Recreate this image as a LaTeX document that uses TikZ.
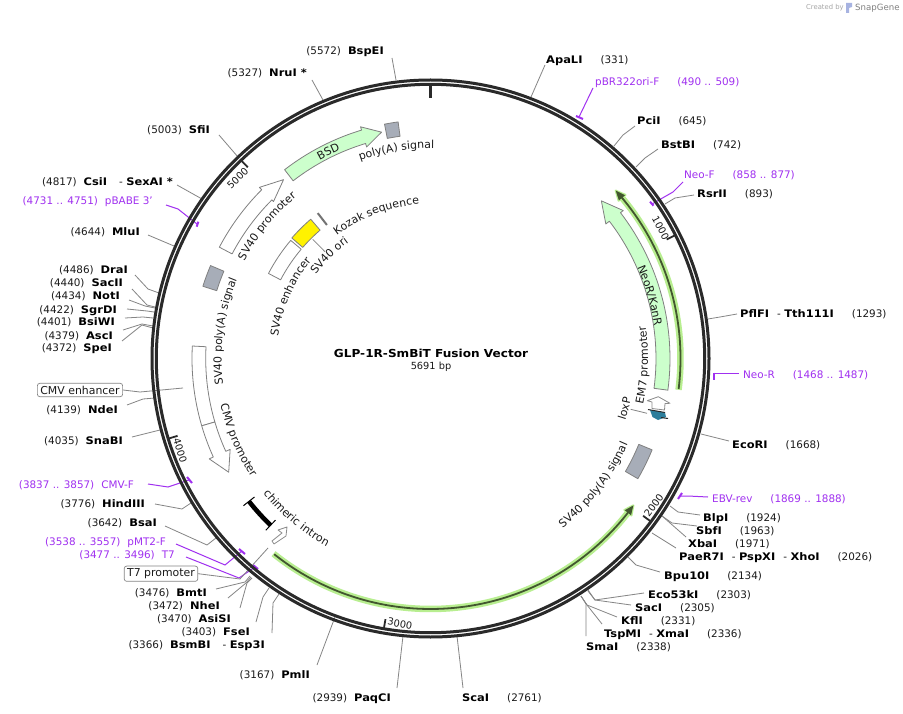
\documentclass[tikz,border=0pt]{standalone}
\usepackage{fontspec}
\setmainfont[BoldFeatures={FakeStretch=1.1}]{DejaVu Sans}
\usetikzlibrary{decorations.text,calc}
\definecolor{prim}{HTML}{A030F0}
\definecolor{txt}{HTML}{1A1A1A}
\definecolor{ringc}{HTML}{2A2A2A}
\definecolor{linec}{HTML}{858585}
\definecolor{featgreen}{HTML}{CCFFCC}
\definecolor{featedge}{HTML}{808080}
\definecolor{featgray}{HTML}{A7ADB8}
\definecolor{glow}{HTML}{B8EE90}
\definecolor{orfdark}{HTML}{42562F}
\definecolor{teal}{HTML}{2C7E9C}
\newcommand{\arcfnt}{\fontsize{11}{13}\selectfont\color{txt}}
\newcommand{\arcpth}[3]{({(#1)-90}:#3) arc[start angle={(#1)-90},end angle={(#2)-90},radius=#3]}
\newcommand{\blockpth}[4]{({(#1)-90}:#4) arc[start angle={(#1)-90},end angle={(#2)-90},radius=#4] -- ({(#2)-90}:#3) arc[start angle={(#2)-90},end angle={(#1)-90},radius=#3] -- cycle}
\newcommand{\arrowpth}[7]{({(#1)-90}:#5) arc[start angle={(#1)-90},end angle={(#2)-90},radius=#5] -- ({(#2)-90}:#7) -- ({(#3)-90}:{(#4+#5)/2}) -- ({(#2)-90}:#6) -- ({(#2)-90}:#4) arc[start angle={(#2)-90},end angle={(#1)-90},radius=#4] -- cycle}
\newcommand{\arclabel}[3]{\path[decorate,decoration={text along path,text align=center,text={|\arcfnt|#3}}] \arcpth{#1-40}{#1+40}{#2};}
\newcommand{\arclabelrev}[3]{\path[decorate,decoration={text along path,text align=center,text={|\arcfnt|#3}}] \arcpth{#1+40}{#1-40}{#2};}
% style, anchor, name, x, y, text, start offset, elbows, end
\newcommand{\site}[9]{\node[#1,anchor=#2] (#3) at (#4,#5) {#6};\coordinate (#3r) at (#9);\draw[#1line] (#3.#2) ++(#7) -- #8 (#3r);}
\newcommand{\hgap}{\hspace{7pt}}
\newcommand{\rgap}{\hspace{18pt}}
\newcommand{\dgap}{\hspace{8pt}-\hspace{3.5pt}}
\newcommand{\ldgap}{\hspace{12pt}-\hspace{3.5pt}}
\newcommand{\bn}[1]{\textcolor{black}{\textbf{#1}}}
\tikzset{
 sitelbl/.style={font=\fontsize{10.4}{12}\selectfont,text=txt,inner sep=0pt,text height=8pt,text depth=0pt},
 primlbl/.style={font=\fontsize{10.4}{12}\selectfont,text=prim,inner sep=0pt,text height=8pt,text depth=0pt},
 sitelblline/.style={draw=linec,line width=0.8pt},
 primlblline/.style={draw=prim,line width=1pt},
 primtick/.style={draw=prim,line width=2pt},
 boxlbl/.style={font=\fontsize{10.9}{12}\selectfont,text=txt,draw=linec,fill=white,rounded corners=2.5pt,inner xsep=3pt,inner ysep=2.5pt,line width=0.7pt},
 feat/.style={draw=featedge,line width=0.8pt,line join=round},
 ringline/.style={draw=ringc,line width=3pt},
 tickmark/.style={draw=ringc,line width=1.8pt},
 topmark/.style={draw=ringc,line width=3pt},
 ticklbl/.style={font=\fontsize{9.8}{11}\selectfont,text=txt,inner sep=0pt},
}
\begin{document}
\begin{tikzpicture}[x=1pt,y=-1pt]
\useasboundingbox (0,0) rectangle (903,714);
\fill[white] (0,0) rectangle (903,714);

% watermark
\node[font=\fontsize{6.8}{8}\selectfont,text=black!35,inner sep=0pt,anchor=west] (wm1) at (806,8) {Created by};
\fill[cyan!35!blue!35] (846,3) -- (852,3) -- (852,7) -- (849,8) -- (849,13) -- (846,13) -- cycle;
\node[font=\fontsize{8.6}{10}\selectfont,text=black!50,inner sep=0pt,anchor=west] (wm2) at (855,8) {SnapGene};

% title
\node[font=\bfseries\fontsize{11}{13}\selectfont,text=black,inner sep=0pt] (title) at (431,353) {GLP-1R-SmBiT Fusion Vector};
\node[font=\fontsize{9.8}{12}\selectfont,text=txt,inner sep=0pt] (size) at (431,367) {5691 bp};

% site and primer labels with connectors (below the ring)
\site{sitelbl}{east}{BspEI}{384}{51}{(5572)\hgap\bn{BspEI}}{8,7}{}{396,80}
\site{sitelbl}{east}{NruI}{307}{73}{(5327)\hgap\bn{NruI *}}{5,7}{}{323,100}
\site{sitelbl}{east}{SfiI}{210}{130}{(5003)\hgap\bn{SfiI}}{9,5}{}{238,157}
\site{sitelbl}{east}{CsiI}{173}{182}{(4817)\hgap\bn{CsiI}\ldgap\bn{SexAI *}}{4,3}{}{202,199}
\site{sitelbl}{east}{MluI}{140}{232}{(4644)\hgap\bn{MluI}}{8,3}{}{174,246}
\site{sitelbl}{east}{DraI}{128}{270}{(4486)\hgap\bn{DraI}}{7,5}{(148,289) --}{159,293}
\site{sitelbl}{east}{SacII}{123}{283}{(4440)\hgap\bn{SacII}}{9,6}{(147,305) --}{155,307}
\site{sitelbl}{east}{NotI}{120}{296}{(4434)\hgap\bn{NotI}}{9,4}{(145,306) --}{155,308}
\site{sitelbl}{east}{SgrDI}{117}{309}{(4422)\hgap\bn{SgrDI}}{10,0}{(147,311) --}{154,312}
\site{sitelbl}{east}{BsiWI}{115}{322}{(4401)\hgap\bn{BsiWI}}{10,-4}{(143,317) --}{153,318}
\site{sitelbl}{east}{AscI}{113}{335}{(4379)\hgap\bn{AscI}}{10,-5}{(142,324) --}{153,326}
\site{sitelbl}{east}{SpeI}{112}{348}{(4372)\hgap\bn{SpeI}}{10,-7}{(142,325) --}{153,328}
\site{sitelbl}{east}{NdeI}{118}{409}{(4139)\hgap\bn{NdeI}}{9,-4}{(143,399) --}{155,398}
\site{sitelbl}{east}{SnaBI}{123}{440}{(4035)\hgap\bn{SnaBI}}{9,-3}{}{160,430}
\site{sitelbl}{east}{HindIII}{145}{503}{(3776)\hgap\bn{HindIII}}{10,1}{(182,509) --}{191,503}
\site{sitelbl}{east}{BsaI}{157}{522}{(3642)\hgap\bn{BsaI}}{8,4}{(207,545) --}{216,538}
\site{sitelbl}{east}{BmtI}{207}{592}{(3476)\hgap\bn{BmtI}}{9,-3}{(245,582) --}{250,576}
\site{sitelbl}{east}{NheI}{220}{605}{(3472)\hgap\bn{NheI}}{8,-7}{(246,583) --}{251,577}
\site{sitelbl}{east}{AsiSI}{231}{618}{(3470)\hgap\bn{AsiSI}}{9,-10}{(247,583) --}{252,578}
\site{sitelbl}{east}{FseI}{250}{631}{(3403)\hgap\bn{FseI}}{6,-9}{(263,597) --}{269,588}
\site{sitelbl}{east}{BsmBI}{265}{644}{(3366)\hgap\bn{BsmBI}\ldgap\bn{Esp3I}}{7,-11}{(273,603) --}{279,594}
\site{sitelbl}{east}{PmlI}{310}{674}{(3167)\hgap\bn{PmlI}}{7,-9}{}{335,617}
\site{sitelbl}{east}{PaqCI}{391}{697}{(2939)\hgap\bn{PaqCI}}{6,-9}{}{403,636}

\site{sitelbl}{west}{ScaI}{462}{697}{\bn{ScaI}\rgap(2761)}{1,-9}{}{457,636}
\site{sitelbl}{west}{ApaLI}{546}{60}{\bn{ApaLI}\rgap(331)}{-1,5}{}{531,97}
\site{sitelbl}{west}{PciI}{637}{121}{\bn{PciI}\rgap(645)}{-2,5}{(623,135) --}{614,146}
\site{sitelbl}{west}{BstBI}{661}{145}{\bn{BstBI}\rgap(742)}{-3,4}{(645,158) --}{636,167}
\site{sitelbl}{west}{RsrII}{697}{194}{\bn{RsrII}\rgap(893)}{-3,1}{(675,198) --}{665,204}
\site{sitelbl}{west}{PflFI}{740}{314}{\bn{PflFI}\dgap\bn{Tth111I}\rgap(1293)}{-3,0}{(720,317) --}{708,319}
\site{sitelbl}{west}{EcoRI}{732}{444}{\bn{EcoRI}\rgap(1668)}{-3,-3}{}{701,434}
\site{sitelbl}{west}{BlpI}{703}{517}{\bn{BlpI}\rgap(1924)}{-3,-2}{(678,512) --}{670,506}
\site{sitelbl}{west}{SbfI}{696}{530}{\bn{SbfI}\rgap(1963)}{1,-4}{(672,523) --}{662,516}
\site{sitelbl}{west}{XbaI}{688}{543}{\bn{XbaI}\rgap(1971)}{-2,-6}{}{662,516}
\site{sitelbl}{west}{PaeR}{679}{556}{\bn{PaeR7I}\dgap\bn{PspXI}\dgap\bn{XhoI}\rgap(2026)}{-3,-8}{}{652,533}
\site{sitelbl}{west}{Bpu}{664}{575}{\bn{Bpu10I}\rgap(2134)}{-4,-3}{(636,565) --}{628,557}
\site{sitelbl}{west}{Eco}{648}{594}{\bn{Eco53kI}\rgap(2303)}{-4,-1}{(595,600) --}{588,590}
\site{sitelbl}{west}{SacI}{635}{607}{\bn{SacI}\rgap(2305)}{-4,-2}{(595,600) --}{588,591}
\site{sitelbl}{west}{KflI}{621}{620}{\bn{KflI}\rgap(2331)}{-4,-3}{(587,605) --}{581,596}
\site{sitelbl}{west}{TspMI}{604}{633}{\bn{TspMI}\dgap\bn{XmaI}\rgap(2336)}{-2,-9}{(587,605) --}{581,596}
\site{sitelbl}{west}{SmaI}{586}{646}{\bn{SmaI}\rgap(2338)}{0,-10}{(586,604) --}{581,596}

\site{primlbl}{east}{pBABE}{153}{201}{(4731 .. 4751)\hgap pBABE 3'}{13,4}{(178,209) --}{197,224}
\site{primlbl}{east}{CMVF}{134}{484}{(3837 .. 3857)\hgap CMV-F}{14,0}{(168,487) --}{189,480}
\site{primlbl}{east}{pMT}{166}{541}{(3538 .. 3557)\hgap pMT2-F}{10,3}{(225,565) --}{242,551}
\site{primlbl}{east}{Tseven}{175}{554}{(3477 .. 3496)\hgap T7}{11,3}{(239,578) --}{255,567}
\site{primlbl}{west}{pBR}{595}{82}{pBR322ori-F\rgap(490 .. 509)}{-2,6}{}{579,117}
\site{primlbl}{west}{NeoF}{684}{175}{Neo-F\rgap(858 .. 877)}{-1,7}{(673,192) --}{652,204}
\site{primlbl}{west}{NeoR}{743}{374}{Neo-R\rgap(1468 .. 1487)}{-4,-1}{}{714,373}
\site{primlbl}{west}{EBV}{712}{498}{EBV-rev\rgap(1869 .. 1888)}{-4,-1}{(688,496) --}{680,496}

% primer marks
\draw[primtick] (196.7,226.7) -- (198.3,221.7);
\draw[primtick] (187,477) -- (192,483);
\draw[primtick] (239,549) -- (245,554);
\draw[primtick] (253,565) -- (258,569);
\draw[primtick] (576,116) -- (583,119);
\draw[primtick] (650,201.7) -- (653.5,205.7);
\draw[primtick] (714,372.5) -- (714,380);
\draw[primtick] (682,493) -- (678,499);

% boxed labels
\node[boxlbl] (cmvbox) at (80,390) {CMV enhancer};
\coordinate (cmvend) at (183,388);
\draw[sitelblline] (cmvbox.east) -- (140,392) -- (cmvend);
\node[boxlbl] (tsevenbox) at (161,573.7) {T7 promoter};
\coordinate (tsevenend) at (268,548);
\draw[sitelblline] (tsevenbox.east) -- (240,579) -- (tsevenend);

\begin{scope}[shift={(430.5,358.5)}]
 % ORF arcs
 \draw[glow,line width=6.5pt] \arcpth{97.2}{49}{250};
 \fill[glow,draw=glow,line width=2pt,line join=round] ({50-90}:254.5) -- ({47.8-90}:250) -- ({50-90}:245.5) -- cycle;
 \draw[orfdark,line width=1.8pt] \arcpth{97}{49.5}{250};
 \fill[orfdark] ({50-90}:254) -- ({47.8-90}:250) -- ({50-90}:246) -- cycle;
 \draw[glow,line width=6.5pt] \arcpth{218.8}{128}{250.5};
 \fill[glow,draw=glow,line width=2pt,line join=round] ({128-90}:255) -- ({125.9-90}:250.5) -- ({128-90}:246) -- cycle;
 \draw[orfdark,line width=1.8pt] \arcpth{218.6}{127.5}{250.5};
 \fill[orfdark] ({128-90}:254.5) -- ({125.9-90}:250.5) -- ({128-90}:246.5) -- cycle;

 % features
 \draw[feat,fill=featgreen] \arrowpth{97.6}{52.5}{47.3}{225.5}{239.5}{221}{243};
 \draw[feat,fill=featgreen] \arrowpth{-37.7}{-16.8}{-12.2}{224.6}{238.6}{221}{242};
 \draw[feat,fill=white] \arrowpth{-62.2}{-45}{-39.4}{224.3}{238.7}{222}{242};
 \draw[feat,fill=white] \blockpth{273}{253.6}{224.8}{238.5};
 \draw[feat,fill=white] \arrowpth{253.6}{245.6}{240.6}{224.8}{238.5}{220}{243};
 \draw[feat,fill=featgray] \blockpth{-11.1}{-7.8}{224.3}{238.8};
 \draw[feat,fill=featgray] \blockpth{-72.4}{-67.1}{224.3}{238.8};
 \draw[feat,fill=featgray] \blockpth{112.4}{120.1}{225.3}{239.7};
 \draw[feat,fill=white] \blockpth{-62.3}{-49.8}{169.3}{183};
 \draw[feat,fill=yellow] \blockpth{-49}{-40.7}{169.3}{183.7};
 \draw[draw=black!55,line width=2pt] ({-37.8-90}:169) -- ({-37.8-90}:184);
 % chimeric intron
 \draw[black,line width=4.6pt] \arcpth{223.8}{231.8}{231};
 \draw[black,line width=1pt] ({223.8-90}:224) -- ({223.8-90}:238);
 \draw[black,line width=1pt] ({231.8-90}:224) -- ({231.8-90}:238);

 % curved labels
 \arclabel{-26.3}{227}{BSD}
 \arclabel{-9.3}{210}{poly(A) signal}
 \arclabel{-20.7}{154.5}{Kozak sequence}
 \arclabel{-44.5}{142}{SV40 ori}
 \arclabel{-66.3}{154}{SV40 enhancer}
 \arclabel{-51}{210}{SV40 promoter}
 \arclabel{-82.5}{209}{SV40 poly(A) signal}
 \arclabel{74}{226}{NeoR/KanR}
 \arclabelrev{247}{215}{CMV promoter}
 \arclabelrev{220}{215}{chimeric intron}
 \arclabelrev{127.8}{215}{SV40 poly(A) signal}
 \arclabelrev{104.5}{204.5}{loxP}
 \arclabelrev{91.8}{217.5}{EM7 promoter}

 % ring
 \draw[ringline] (0,0) circle[radius=278.5];
 \draw[ringline] (0,0) circle[radius=274.2];

 % ticks
 \draw[topmark] (-90:273.5) -- (-90:260.5);
 \draw[tickmark] ({63.26-90}:273.5) -- ({63.26-90}:264.5);
 \draw[tickmark] ({126.5-90}:273.5) -- ({126.5-90}:264.5);
 \draw[tickmark] ({189.8-90}:273.5) -- ({189.8-90}:264.5);
 \draw[tickmark] ({253-90}:273.5) -- ({253-90}:264.5);
 \draw[tickmark] ({316.3-90}:273.5) -- ({316.3-90}:264.5);
 \node[ticklbl,anchor=base east,rotate=-62] (tonek) at ({63.2-90}:261) {1000};
 \node[ticklbl,anchor=base west,rotate=53] (ttwok) at ({126-90}:270) {2000};
 \node[ticklbl,anchor=base west,rotate=-10] (tthreek) at ({189.3-90}:270) {3000};
 \node[ticklbl,anchor=base west,rotate=-73] (tfourk) at ({252.5-90}:270) {4000};
 \node[ticklbl,anchor=base east,rotate=44] (tfivek) at ({315.8-90}:260) {5000};
\end{scope}

% thin pointers and small features in page coordinates
\draw[sitelblline] (312.7,239.3) -- (325,251.7);
\draw[sitelblline] (630.7,409.3) -- (647,413.3);
\draw[feat,draw=black!45,fill=white] (272,541) -- (274,544) -- (286,536) -- (287,527) -- (278,530) -- (282,533) -- cycle;
% EM7 promoter
\draw[feat,draw=black!45,fill=white] (647.3,400.7) -- (658.3,396.7) -- (670,403.3) -- (665,403.5) -- (664.5,410) -- (652,408.5) -- (652,402) -- cycle;
% loxP
\fill[teal] (650,410) -- (665,412.5) -- (666,417) -- (658,420) -- (652.5,417) -- cycle;
\draw[ringc,line width=1pt] (648,409.5) -- (665,412.5);
\draw[ringc,line width=1pt] (661,417.5) -- (668,418.5);
\end{tikzpicture}
\end{document}
